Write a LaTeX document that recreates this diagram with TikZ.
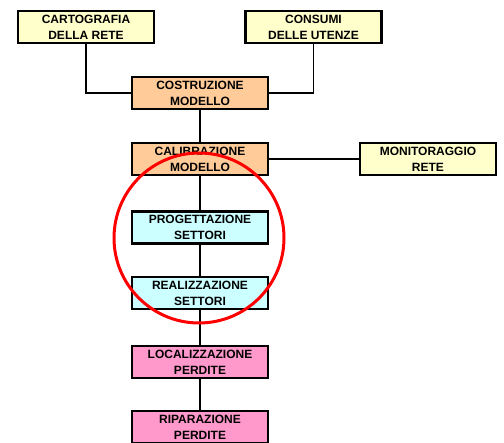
\documentclass[tikz,border=0pt]{standalone}
\usepackage{fontspec}
\setmainfont{Liberation Sans}
\definecolor{cyel}{HTML}{FFFFCC}
\definecolor{corg}{HTML}{FFCC99}
\definecolor{ccya}{HTML}{CCFFFF}
\definecolor{cpnk}{HTML}{FF99CC}
\definecolor{cred}{HTML}{FF0000}
\begin{document}
\begin{tikzpicture}[x=1pt,y=-1pt,
  box/.style={draw=black,line width=2.8pt,minimum width=136pt,minimum height=32pt,inner sep=0pt,align=center,
    font=\fontsize{12}{16}\selectfont\bfseries},
  conn/.style={draw=black,line width=1.8pt}]
\useasboundingbox (0,0) rectangle (504,443);
\begin{scope}
\clip (0,0) rectangle (504,443);
\node[box,fill=cyel] (cart) at (86,27) {CARTOGRAFIA\\DELLA RETE};
\node[box,fill=cyel] (cons) at (313.5,27) {CONSUMI\\DELLE UTENZE};
\node[box,fill=corg] (cost) at (200,93) {COSTRUZIONE\\MODELLO};
\node[box,fill=corg] (cali) at (200,159) {CALIBRAZIONE\\MODELLO};
\node[box,fill=cyel] (moni) at (428,159) {MONITORAGGIO\\RETE};
\node[box,fill=ccya] (prog) at (200,227.5) {PROGETTAZIONE\\SETTORI};
\node[box,fill=ccya] (real) at (200,293) {REALIZZAZIONE\\SETTORI};
\node[box,fill=cpnk] (loca) at (200,362) {LOCALIZZAZIONE\\PERDITE};
\node[box,fill=cpnk] (ripa) at (200,427) {RIPARAZIONE\\PERDITE};
\draw[conn] (cart.south) |- (cost.west);
\draw[conn] (cons.south) |- (cost.east);
\draw[conn] (cost) -- (cali);
\draw[conn] (cali) -- (moni);
\draw[conn] (cali) -- (prog);
\draw[conn] (prog) -- (real);
\draw[conn] (real) -- (loca);
\draw[conn] (loca) -- (ripa);
\coordinate (cc) at (199,238);
\draw[cred,line width=3pt] (cc) circle (85);
\end{scope}
\end{tikzpicture}
\end{document}
